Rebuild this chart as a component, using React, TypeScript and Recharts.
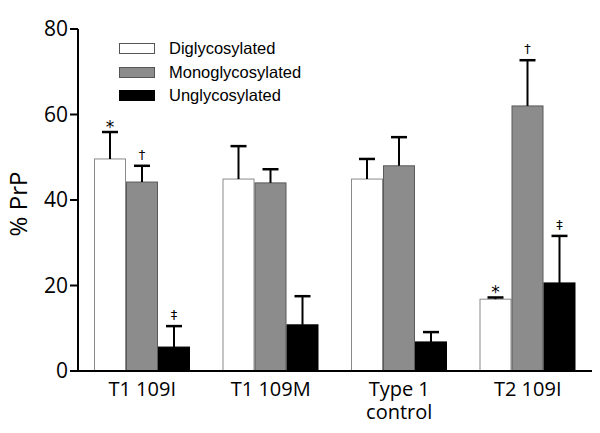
import React from "react";
import { BarChart, Bar, XAxis, YAxis } from "recharts";

const categories = ["T1 109I", "T1 109M", "Type 1\ncontrol", "T2 109I"];
const diValues = [49.6, 44.9, 44.9, 16.8];
const diErrTop = [55.9, 52.6, 49.6, 17.2];
const monoValues = [44.2, 44.0, 48.0, 62.0];
const monoErrTop = [48.0, 47.2, 54.7, 72.7];
const unValues = [5.6, 10.8, 6.8, 20.6];
const unErrTop = [10.5, 17.5, 9.1, 31.6];
const diMarks = ["*", "", "", "*"];
const monoMarks = ["†", "", "", "†"];
const unMarks = ["‡", "", "", "‡"];
const yTicks = [0, 20, 40, 60, 80];

const data = categories.map((c, i) => ({
  name: c,
  di: diValues[i],
  diErr: diErrTop[i],
  diMark: diMarks[i],
  mono: monoValues[i],
  monoErr: monoErrTop[i],
  monoMark: monoMarks[i],
  un: unValues[i],
  unErr: unErrTop[i],
  unMark: unMarks[i],
}));

const series = [
  { key: "di", name: "Diglycosylated", fill: "#ffffff", stroke: "#8a8a8a" },
  { key: "mono", name: "Monoglycosylated", fill: "#8c8c8c", stroke: "#5a5a5a" },
  { key: "un", name: "Unglycosylated", fill: "#000000", stroke: "#000000" },
];

const makeShape = (key: string, fill: string, stroke: string) => (props: any) => {
  const { x, y, width, height, payload } = props;
  const v = payload[key];
  const e = payload[key + "Err"];
  const mark = payload[key + "Mark"];
  const base = y + height;
  const pxPerUnit = height / v;
  const ey = base - e * pxPerUnit;
  const cx = x + width / 2;
  return (
    <g>
      <rect x={x + 0.5} y={y} width={width - 1} height={height} fill={fill} stroke={stroke} strokeWidth={1} />
      <line x1={cx} y1={y} x2={cx} y2={ey} stroke="#000" strokeWidth={2} />
      <line x1={cx - 8} y1={ey} x2={cx + 8} y2={ey} stroke="#000" strokeWidth={2.5} />
      {mark ? (
        <text
          x={cx}
          y={ey - (mark === "*" ? -1 : 7)}
          textAnchor="middle"
          fontFamily="'DejaVu Sans', sans-serif"
          fontSize={mark === "*" ? 17 : 13}
          fill="#000"
        >
          {mark}
        </text>
      ) : null}
    </g>
  );
};

const XTick = (props: any) => {
  const { x, y, payload } = props;
  const lines = String(payload.value).split("\n");
  return (
    <text x={x} y={y + 17} textAnchor="middle" fontFamily="'Open Sans', sans-serif" fontSize={20} fill="#000">
      {lines.map((l, i) => (
        <tspan key={i} x={x} dy={i === 0 ? 0 : 23}>
          {l}
        </tspan>
      ))}
    </text>
  );
};

const YLabel = (props: any) => {
  const { viewBox } = props;
  const cy = viewBox.y + viewBox.height / 2 + 4;
  const cx = 27;
  return (
    <text
      x={cx}
      y={cy}
      transform={`rotate(-90, ${cx}, ${cy})`}
      textAnchor="middle"
      fontFamily="'Open Sans', sans-serif"
      fontSize={24}
      fill="#000"
    >
      % PrP
    </text>
  );
};

const LegendBox = () => (
  <div
    style={{
      position: "absolute",
      left: 119,
      top: 37,
      fontFamily: "'Liberation Sans', Arial, sans-serif",
      fontSize: 16.5,
      color: "#000",
    }}
  >
    {series.map((s) => (
      <div key={s.key} style={{ display: "flex", alignItems: "center", height: 23.5 }}>
        <div
          style={{
            width: 34,
            height: 9,
            background: s.fill,
            border: `1px solid ${s.stroke === "#000000" ? "#000" : "#555"}`,
            marginRight: 14,
          }}
        />
        <span>{s.name}</span>
      </div>
    ))}
  </div>
);

export default function App() {
  return (
    <div style={{ position: "absolute", left: 0, top: 0, width: 600, height: 433, background: "#fff" }}>
      <BarChart
        width={600}
        height={433}
        data={data}
        margin={{ top: 29, right: 8, left: 0, bottom: 0 }}
        barCategoryGap={16}
        barGap={0}
      >
        <XAxis
          dataKey="name"
          tick={<XTick />}
          tickLine={false}
          axisLine={{ stroke: "#000", strokeWidth: 2 }}
          height={62}
          interval={0}
        />
        <YAxis
          domain={[0, 80]}
          ticks={yTicks}
          width={78}
          axisLine={{ stroke: "#000", strokeWidth: 2 }}
          tickLine={{ stroke: "#000", strokeWidth: 2 }}
          tickSize={8}
          tick={{ fill: "#000", fontSize: 21, fontFamily: "'Open Sans', sans-serif" }}
          label={<YLabel />}
        />
        {series.map((s) => (
          <Bar
            key={s.key}
            dataKey={s.key}
            name={s.name}
            fill={s.fill}
            isAnimationActive={false}
            shape={makeShape(s.key, s.fill, s.stroke)}
          />
        ))}
      </BarChart>
      <LegendBox />
    </div>
  );
}
